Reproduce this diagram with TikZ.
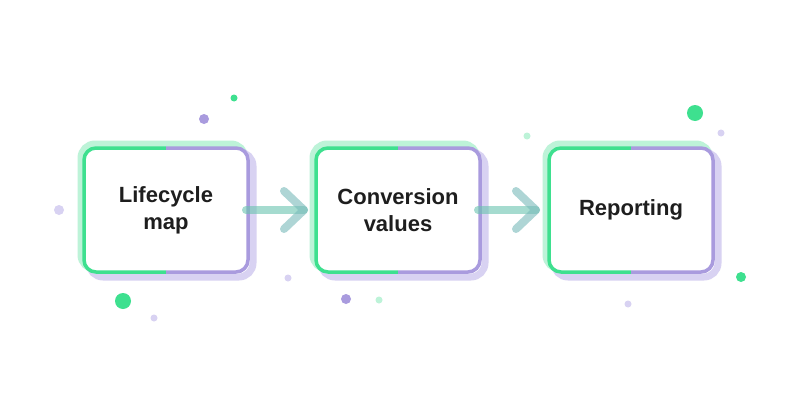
\documentclass[tikz,border=0pt]{standalone}
\usepackage{fontspec}
\setmainfont{Liberation Sans}
\begin{document}
\definecolor{gr}{HTML}{3EE08F}
\definecolor{pu}{HTML}{A99BDE}
\definecolor{lgr}{HTML}{BDF3D8}
\definecolor{lpu}{HTML}{D8D2F2}
\definecolor{txt}{HTML}{1E1E1E}
\begin{tikzpicture}[x=1pt,y=-1pt,
  lbl/.style={font=\bfseries\fontsize{22}{27}\selectfont,text=txt,align=center},
  dot/.style={circle,inner sep=0pt,draw=none}]
\useasboundingbox[fill=white] (0,0) rectangle (800,420);
\newcommand\stepbox[3]{% name, x, text
  \draw[lgr,line width=7pt,rounded corners=14pt] (#2-3,144) rectangle (#2+161,269);
  \draw[lpu,line width=7pt,rounded corners=14pt] (#2+5,152) rectangle (#2+169,277);
  \fill[white,rounded corners=12pt] (#2,148) rectangle (#2+164,272);
  \begin{scope}
    \clip (#2-10,130) rectangle (#2+82,290);
    \draw[gr,line width=3.5pt,rounded corners=12pt] (#2,148) rectangle (#2+164,272);
  \end{scope}
  \begin{scope}
    \clip (#2+82,130) rectangle (#2+180,290);
    \draw[pu,line width=3.5pt,rounded corners=12pt] (#2,148) rectangle (#2+164,272);
  \end{scope}
  \node[lbl] (#1) at (#2+82,210) {#3};
}
\stepbox{a}{84}{Lifecycle\\map}
\stepbox{b}{316}{Conversion\\values}
\stepbox{c}{549}{Reporting}
\coordinate (ab1) at (246,210); \coordinate (ab2) at (304,210);
\draw[line width=8pt,line cap=round,opacity=0.6,draw=gr!60!pu] (ab1) -- (ab2);
\draw[line width=8pt,line cap=round,line join=round,opacity=0.6,draw=gr!45!pu] ([shift={(-20,-19)}]ab2) -- (ab2) -- ([shift={(-20,19)}]ab2);
\coordinate (bc1) at (478,210); \coordinate (bc2) at (536,210);
\draw[line width=8pt,line cap=round,opacity=0.6,draw=gr!60!pu] (bc1) -- (bc2);
\draw[line width=8pt,line cap=round,line join=round,opacity=0.6,draw=gr!45!pu] ([shift={(-20,-19)}]bc2) -- (bc2) -- ([shift={(-20,19)}]bc2);
\node[dot,fill=gr,minimum size=7pt] (d1) at (234,98) {};
\node[dot,fill=pu,minimum size=10pt] (d2) at (204,119) {};
\node[dot,fill=lpu,minimum size=10pt] (d3) at (59,210) {};
\node[dot,fill=gr,minimum size=16pt] (d4) at (123,301) {};
\node[dot,fill=lpu,minimum size=7pt] (d5) at (154,318) {};
\node[dot,fill=lpu,minimum size=7pt] (d6) at (288,278) {};
\node[dot,fill=pu,minimum size=10pt] (d7) at (346,299) {};
\node[dot,fill=lgr,minimum size=7pt] (d8) at (379,300) {};
\node[dot,fill=lgr,minimum size=7pt] (d9) at (527,136) {};
\node[dot,fill=gr,minimum size=16pt] (d10) at (695,113) {};
\node[dot,fill=lpu,minimum size=7pt] (d11) at (721,133) {};
\node[dot,fill=gr,minimum size=10pt] (d12) at (741,277) {};
\node[dot,fill=lpu,minimum size=7pt] (d13) at (628,304) {};
\end{tikzpicture}
\end{document}
